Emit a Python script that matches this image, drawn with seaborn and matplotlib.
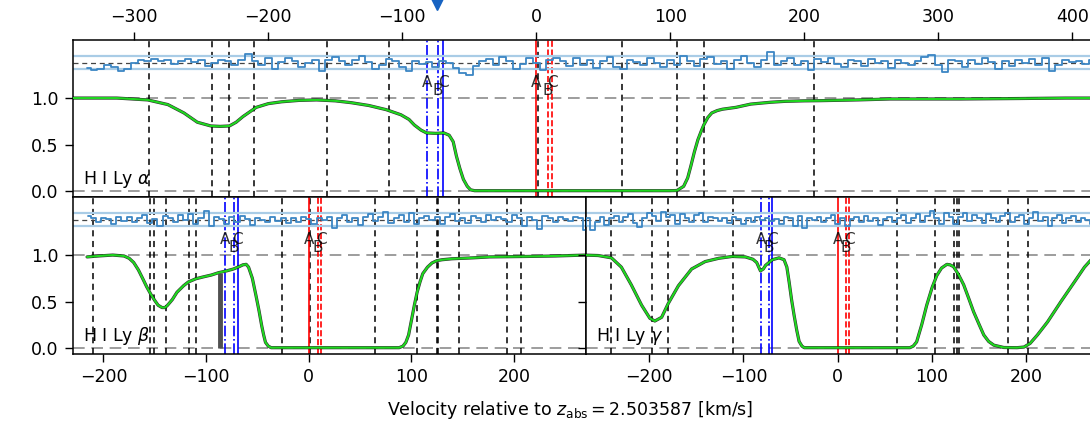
import numpy as np
import pandas as pd
import matplotlib
matplotlib.use("Agg")
import matplotlib.pyplot as plt
import seaborn as sns

# ---------------------------------------------------------------- data
# Best-fit model profiles (velocity km/s, normalised flux)
LYA_MODEL = [(-346, 1.0), (-335, 1.0), (-313, 1.0), (-290, 0.98), (-275, 0.93),
             (-263, 0.84), (-253, 0.74), (-243, 0.70), (-236, 0.695), (-229, 0.70),
             (-224, 0.74), (-219, 0.80), (-209, 0.90), (-200, 0.94), (-190, 0.96),
             (-177, 0.975), (-164, 0.98), (-150, 0.97), (-138, 0.95), (-125, 0.92),
             (-112, 0.875), (-101, 0.82), (-95, 0.77), (-91, 0.71), (-86, 0.655),
             (-82, 0.625), (-75, 0.62), (-69, 0.625), (-65, 0.60), (-62, 0.53),
             (-59.6, 0.375), (-57, 0.24), (-54.4, 0.125), (-51.5, 0.05), (-49, 0.012),
             (-46, 0.003), (0, 0.003), (60, 0.003), (100, 0.003), (105, 0.005),
             (110, 0.05), (113, 0.14), (115.4, 0.27), (118, 0.42), (120.6, 0.55),
             (123, 0.64), (125, 0.71), (128, 0.79), (131, 0.84), (135, 0.865),
             (139, 0.88), (149, 0.90), (160, 0.935), (175, 0.955), (186, 0.965),
             (200, 0.97), (212, 0.972), (240, 0.98), (264, 0.99), (290, 0.99),
             (317, 0.99), (360, 0.995), (395, 1.0), (420, 1.0)]

LYB_MODEL = [(-216, 0.98), (-205, 0.99), (-191, 1.0), (-180, 0.99), (-175, 0.965),
             (-170.6, 0.92), (-166, 0.84), (-161.5, 0.74), (-158, 0.66), (-154, 0.58),
             (-150, 0.51), (-146.8, 0.46), (-143, 0.435), (-140, 0.435), (-137.6, 0.46),
             (-133, 0.52), (-128.4, 0.60), (-122, 0.67), (-117.4, 0.71), (-110, 0.745),
             (-102.8, 0.765), (-95, 0.785), (-88, 0.81), (-80, 0.83), (-73.4, 0.85),
             (-67, 0.88), (-64.2, 0.895), (-61, 0.90), (-58.7, 0.87), (-55, 0.75),
             (-51.4, 0.56), (-48.5, 0.40), (-45.9, 0.24), (-44, 0.14), (-42.2, 0.06),
             (-39.5, 0.02), (-36.7, 0.003), (0, 0.003), (88, 0.003), (91.7, 0.02),
             (94.5, 0.06), (97.2, 0.14), (100, 0.30), (102.8, 0.46), (105.5, 0.60),
             (108.3, 0.71), (111, 0.80), (115.6, 0.87), (120, 0.915), (124.8, 0.94),
             (130, 0.95), (139.4, 0.96), (160, 0.97), (176, 0.98), (212.8, 0.985),
             (240, 0.99), (270, 1.0)]

LYG_MODEL = [(-270, 1.0), (-254, 0.995), (-240, 0.97), (-229.5, 0.87), (-219, 0.68),
             (-208, 0.46), (-199.3, 0.32), (-194, 0.29), (-186.8, 0.33), (-179.7, 0.48),
             (-169, 0.67), (-155, 0.85), (-140.6, 0.93), (-126.3, 0.965), (-112, 0.985),
             (-98, 0.98), (-90, 0.955), (-86, 0.92), (-82, 0.83), (-79, 0.85),
             (-76.5, 0.89), (-69.4, 0.95), (-62.3, 0.97), (-57, 0.95), (-54, 0.87),
             (-51.6, 0.71), (-49, 0.52), (-46.3, 0.35), (-43.5, 0.19), (-41, 0.07),
             (-38, 0.02), (-35.6, 0.003), (76.5, 0.003), (80, 0.02), (83.6, 0.065),
             (89, 0.25), (94.3, 0.46), (100, 0.65), (105, 0.78), (110, 0.86),
             (115.7, 0.90), (119, 0.895), (122.8, 0.875), (128, 0.79), (133.5, 0.68),
             (139, 0.53), (144, 0.39), (150, 0.25), (154.8, 0.14), (160, 0.07),
             (165.5, 0.03), (176, 0.005), (190, 0.003), (197.5, 0.01), (204, 0.05),
             (211.7, 0.14), (222.4, 0.28), (236.7, 0.50), (250.9, 0.71), (261.6, 0.87),
             (268.7, 0.95), (277, 0.98)]

# Normalised residuals (data - model) / sigma on a regular velocity grid
LYA_RES_START, LYA_RES_STEP = -335, 5
LYA_RES = [-0.8, -1.1, -0.9, -0.3, -0.6, -1.3, -0.9, -0.1, 0.5, 0.3,
           0.6, 0.2, 0.4, -0.2, 0.3, 0.6, 0.1, 0.4, -0.5, 0.0,
           0.5, 0.3, -0.4, 0.4, 1.3, 0.2, -0.3, 0.7, -0.9, 0.1,
           0.8, 0.2, -0.6, 0.0, 0.5, -1.2, 0.5, 0.9, 0.3, -0.4,
           0.4, 1.0, 0.1, -1.0, -0.3, 0.6, 0.2, -0.7, -1.3, 0.3,
           -0.2, 0.1, -0.6, 0.3, -0.1, -0.8, -1.5, -1.9, -0.5, 0.2,
           0.6, -0.3, 0.9, 0.3, -0.9, -0.2, 0.7, 0.0, -1.1, 0.4,
           0.8, 0.3, -0.5, 0.7, -0.3, 0.5, -0.8, 0.2, 0.9, -0.6,
           -1.0, 0.4, 0.1, -0.4, 0.7, 0.0, -0.7, 0.5, -0.3, 1.0,
           0.2, -0.5, 0.6, 0.9, -0.2, 0.3, -0.9, 0.4, 1.1, 0.0,
           -0.6, 0.5, 1.6, -0.3, 0.2, 0.7, -0.4, 0.3, -1.1, 0.6,
           0.1, 0.8, -0.2, -0.7, 0.4, 0.2, -0.5, 0.6, -0.1, 0.3,
           -0.8, 0.5, 0.0, -0.4, 0.3, 0.9, 1.2, -0.3, -1.4, 0.4,
           0.2, -0.6, 0.5, -0.2, 0.7, 0.1, -0.9, 0.3, -0.5, 0.4,
           0.0, 0.6, -0.3, 0.8, -1.2, -0.4, 0.5, 0.1, 0.3, -0.2,
           0.5, 0.0]

LYB_RES_START, LYB_RES_STEP = -215, 5
LYB_RES = [0.6, 0.2, -0.4, 0.3, 0.1, -0.6, 0.4, -0.2, 0.5, -0.3,
           0.2, 0.8, -0.5, 0.1, -0.9, 0.6, 0.3, -0.4, 0.7, -0.1,
           0.9, -0.7, 0.2, 1.3, -1.0, 0.5, 0.1, -0.6, 0.4, -0.3,
           0.6, 0.1, -0.8, 0.3, 0.0, -0.4, 0.5, -0.2, 0.3, -0.5,
           0.2, -0.3, 0.4, 0.1, -0.6, 0.3, -0.1, 0.5, -1.2, 0.2,
           0.7, -0.4, 0.3, -0.8, 0.5, 0.9, -0.2, 0.4, 1.2, -0.5,
           0.3, 0.8, -0.3, 1.1, -0.6, 0.2, 0.6, 0.0, 0.5, -0.7,
           0.4, 0.9, -0.2, 0.3, -0.5, 0.6, 0.2, -0.3, 0.7, -0.1,
           0.5, 0.1, -0.4, 0.8, 0.2, -0.9, 0.4, 0.0, -1.4, 0.6,
           0.2, -0.3, 0.5, 0.1, -0.2, 0.4, 0.3, -1.6]

LYG_RES_START, LYG_RES_STEP = -270, 5
LYG_RES = [-0.9, 0.3, -1.5, -0.4, 0.5, -0.8, 0.2, 0.6, -0.3, 0.4,
           0.9, -0.5, -1.1, 0.3, 1.0, 0.6, -0.2, 1.2, 0.4, 0.8,
           -0.6, 0.9, 0.3, -0.3, 0.7, 1.1, -0.4, 0.5, 0.2, -0.2,
           0.3, -0.5, 0.4, 0.1, -0.6, 0.2, -0.3, 0.5, 0.0, 0.3,
           -0.2, 0.1, -0.7, 0.4, 0.2, -0.9, 0.6, -1.3, 0.3, -0.1,
           0.5, -0.4, 0.2, 0.8, -0.6, 0.3, -1.0, 0.1, 0.4, -0.3,
           0.6, -0.2, 0.3, -0.8, 0.1, 0.5, -0.4, 0.2, 0.7, -0.5,
           0.3, 0.9, -0.3, 0.6, 1.3, 0.2, -0.7, 1.0, 0.4, -0.6,
           0.5, 1.1, -0.2, 0.7, 0.3, -0.5, 0.9, 0.2, -0.4, 0.6,
           1.0, -0.3, 0.4, 0.8, -0.6, 0.2, 1.2, -0.2, 0.5, -0.9,
           0.3, 0.7, -0.5, 0.2, 0.6, -0.4, 0.3, 0.0, -0.7, 0.4, 0.1]

# Velocity components marked with black dashed lines
LYA_COMPS = [-289, -242, -229, -211, -156, -110, 1, 64, 105, 125, 207]
LYB_COMPS = [-210, -155, -150.5, -139.5, -117, -109.5, -26, 1, 64, 105.5,
             124.8, 126, 146, 193, 207]
LYG_COMPS = [-241, -197, -180.5, -111.5, 63, 103, 123.5, 126, 128.8, 181, 202]

# Two absorber systems, three components (A, B, C) each
SYS_LABELS = ["A", "B", "C"]
SYS_BLUE = [-81.8, -73.3, -69.3]
SYS_RED = [0.0, 8.5, 12.0]

# Masked pixel in the Ly-beta spectrum (velocity, flux)
LYB_MASKED = (-87, 0.81)

# Velocity of the flagged feature above the top panel
FLAG_V = -74

Z_ABS = "2.503587"
PANEL_NAMES = [r"H I Ly $\alpha$", r"H I Ly $\beta$", r"H I Ly $\gamma$"]
X_LIMITS = [(-346, 420), (-230, 270), (-267, 277)]
TOP_TICKS = [-300, -200, -100, 0, 100, 200, 300, 400]
BOTTOM_TICKS = [-200, -100, 0, 100, 200]
Y_TICKS = [0.0, 0.5, 1.0]

# ---------------------------------------------------------------- style
sns.set_theme(style="ticks")
plt.rcParams["font.family"] = ["DejaVu Sans"]
plt.rcParams.update({
    "axes.edgecolor": "black",
    "axes.linewidth": 1.1,
    "xtick.color": "black",
    "ytick.color": "black",
    "xtick.labelsize": 12.5,
    "ytick.labelsize": 12.5,
    "xtick.major.size": 5.5,
    "ytick.major.size": 5.5,
    "xtick.major.width": 1.0,
    "ytick.major.width": 1.0,
    "xtick.major.pad": 4.5,
    "ytick.major.pad": 4.5,
    "text.color": "black",
})

RES_CENTER = 1.38
RES_SIGMA = 0.07
Y_LIM = (-0.065, 1.625)

GREEN = "#1fd81f"
RES_COLOR = "#3b86c4"
BAND_COLOR = "#a9cce6"

fig = plt.figure(figsize=(10.9, 4.28), dpi=100)
W, H = 1090.0, 428.0
ax_a = fig.add_axes([72.7 / W, 1 - 197 / H, (1099 - 72.7) / W, 157 / H])
ax_b = fig.add_axes([72.7 / W, 1 - 354 / H, (586 - 72.7) / W, 157 / H])
ax_g = fig.add_axes([586 / W, 1 - 354 / H, (1099 - 586) / W, 157 / H])


def draw_panel(ax, model, res_start, res_step, res, comps, name, xlim):
    mv, mf = zip(*model)
    dfm = pd.DataFrame({"v": mv, "f": mf})
    rv = res_start + res_step * np.arange(len(res))
    dfr = pd.DataFrame({"v": rv, "r": RES_CENTER + RES_SIGMA * np.asarray(res)})

    ax.set_xlim(*xlim)
    ax.set_ylim(*Y_LIM)

    # reference levels
    for lvl in (0.0, 1.0):
        ax.axhline(lvl, color="#8c8c8c", lw=1.2, ls=(0, (7, 4)), zorder=1)

    # component markers
    for v in comps:
        ax.axvline(v, color="black", lw=1.1, ls=(0, (4, 3)), zorder=2)
    for v, st in zip(SYS_BLUE, ["-.", "-.", "-"]):
        ax.axvline(v, color="blue", lw=1.2, ls=st, zorder=2)
    for v, st in zip(SYS_RED, ["-", "--", "--"]):
        ax.axvline(v, color="red", lw=1.2, ls=st, zorder=2)
    for grp in (SYS_BLUE, SYS_RED):
        for v, lab, yy in zip(grp, SYS_LABELS, [1.17, 1.08, 1.17]):
            ax.text(v, yy, lab, ha="center", va="center", fontsize=11,
                    color="black", alpha=0.8, zorder=5)

    # residual strip
    for lvl in (RES_CENTER - RES_SIGMA, RES_CENTER + RES_SIGMA):
        ax.axhline(lvl, color=BAND_COLOR, lw=1.6, zorder=2)
    ax.axhline(RES_CENTER, color="#444444", lw=0.9, ls=(0, (4, 3)), zorder=2)
    sns.lineplot(data=dfr, x="v", y="r", ax=ax, color=RES_COLOR, lw=1.3,
                 drawstyle="steps-mid", estimator=None, sort=False, zorder=3)

    # observed spectrum outline and model
    sns.lineplot(data=dfm, x="v", y="f", ax=ax, color="black", lw=2.3,
                 estimator=None, sort=False, zorder=3, alpha=0.8)
    sns.lineplot(data=dfm, x="v", y="f", ax=ax, color=GREEN, lw=1.5,
                 estimator=None, sort=False, zorder=4)

    ax.annotate(name, xy=(0, 0), xycoords="axes fraction", xytext=(10, 13),
                textcoords="offset pixels", fontsize=12.5, ha="left",
                va="baseline", zorder=6)
    ax.set_xlabel("")
    ax.set_ylabel("")
    ax.set_yticks(Y_TICKS)


draw_panel(ax_a, LYA_MODEL, LYA_RES_START, LYA_RES_STEP, LYA_RES, LYA_COMPS,
           PANEL_NAMES[0], X_LIMITS[0])
draw_panel(ax_b, LYB_MODEL, LYB_RES_START, LYB_RES_STEP, LYB_RES, LYB_COMPS,
           PANEL_NAMES[1], X_LIMITS[1])
draw_panel(ax_g, LYG_MODEL, LYG_RES_START, LYG_RES_STEP, LYG_RES, LYG_COMPS,
           PANEL_NAMES[2], X_LIMITS[2])

# masked pixel in Ly-beta
ax_b.plot([LYB_MASKED[0], LYB_MASKED[0]], [0.0, LYB_MASKED[1]], color="#505050",
          lw=3.5, solid_capstyle="butt", zorder=3)

# top panel: velocity axis on top
ax_a.xaxis.tick_top()
ax_a.set_xticks(TOP_TICKS)
ax_a.set_yticklabels([f"{t:.1f}" for t in Y_TICKS])
ax_a.plot([FLAG_V], [2.03], marker="v", ms=11, color="#1763c2", ls="none",
          clip_on=False, zorder=10)

ax_b.set_xticks(BOTTOM_TICKS)
ax_b.set_yticklabels([f"{t:.1f}" for t in Y_TICKS])
ax_g.set_xticks(BOTTOM_TICKS)
ax_g.set_yticklabels([])

fig.text(570 / W, 1 - 410 / H, r"Velocity relative to $z_{\mathrm{abs}} = " + Z_ABS + r"$ [km/s]",
         ha="center", va="center", fontsize=12.5)

fig.savefig("out.png", dpi=100)
